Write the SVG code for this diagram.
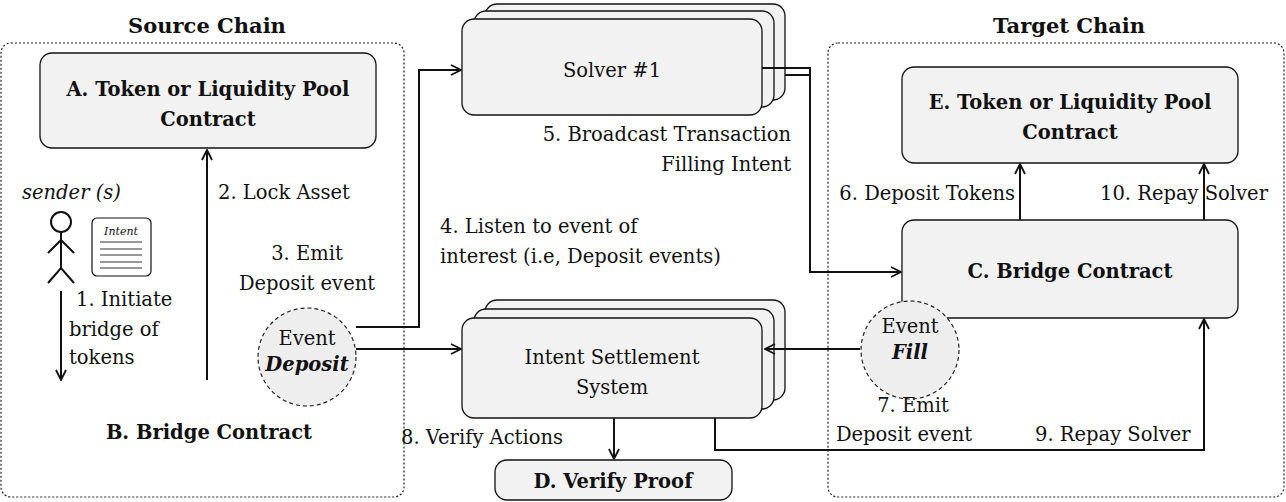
<svg xmlns="http://www.w3.org/2000/svg" width="1286" height="502" viewBox="0 0 1286 502">
<style>
text{font-family:"DejaVu Serif","Liberation Serif",serif;font-size:19.5px;fill:#111}
.b{font-weight:bold}
.t{font-size:21px}
.c{text-anchor:middle}
.r{text-anchor:end}
.i{font-style:italic}
.box{fill:#f2f2f2;stroke:#111;stroke-width:1.3}
.cont{fill:none;stroke:#222;stroke-width:1.2;stroke-dasharray:2 2}
.ev{fill:#eeeeee;stroke:#222;stroke-width:1.2;stroke-dasharray:4 3}
.ln{fill:none;stroke:#111;stroke-width:2}
</style>
<defs>
<marker id="ah" viewBox="0 0 12 12" refX="11" refY="6" markerWidth="12" markerHeight="12" markerUnits="userSpaceOnUse" orient="auto">
<path d="M1,1 L11,6 L1,11" fill="none" stroke="#111" stroke-width="1.8"/>
</marker>
</defs>
<g id="source-chain">
<rect class="cont" x="1" y="43" width="403" height="454" rx="10"/>
<text class="b c t" x="207" y="33">Source Chain</text>
<text class="b c" x="209" y="439">B. Bridge Contract</text>
</g>
<g id="target-chain">
<rect class="cont" x="828" y="43" width="456" height="454" rx="10"/>
<text class="b c t" x="1069" y="33">Target Chain</text>
</g>
<g id="nodeA">
<rect class="box" x="40" y="53" width="336" height="95" rx="12"/>
<text class="b c" x="208" y="96">A. Token or Liquidity Pool</text>
<text class="b c" x="208" y="126">Contract</text>
</g>
<g id="sender">
<text class="i" x="22" y="199">sender (s)</text>
<circle cx="61" cy="222" r="10" fill="none" stroke="#111" stroke-width="2"/>
<path class="ln" d="M61,232 V262 M48,253 L61,240 L74,253 M48,283 L61,268 L74,283 M61,262 V268"/>
</g>
<g id="intent">
<rect x="92" y="218" width="59" height="58" rx="5" fill="#fff" stroke="#111" stroke-width="1.2"/>
<text class="i c" x="121" y="235" style="font-size:11px">Intent</text>
<path d="M100,242 H142 M100,249 H142 M100,255 H142 M100,262 H142 M100,268 H142" stroke="#333" stroke-width="1"/>
</g>
<g id="event-deposit">
<circle class="ev" cx="307" cy="357" r="49"/>
<text class="c" x="307" y="345">Event</text>
<text class="b i c" x="307" y="371">Deposit</text>
</g>
<g id="solver">
<rect class="box" x="485" y="4" width="300" height="96" rx="12"/>
<rect class="box" x="474" y="11" width="300" height="96" rx="12"/>
<rect class="box" x="462" y="19" width="300" height="96" rx="12"/>
<text class="c" x="612" y="77">Solver #1</text>
</g>
<g id="settlement">
<rect class="box" x="485" y="300" width="300" height="100" rx="12"/>
<rect class="box" x="474" y="309" width="300" height="100" rx="12"/>
<rect class="box" x="462" y="318" width="300" height="100" rx="12"/>
<text class="c" x="612" y="364">Intent Settlement</text>
<text class="c" x="612" y="394">System</text>
</g>
<g id="nodeD">
<rect class="box" x="495" y="460" width="237" height="40" rx="12"/>
<text class="b c" x="613" y="488">D. Verify Proof</text>
</g>
<g id="nodeE">
<rect class="box" x="902" y="67" width="336" height="96" rx="12"/>
<text class="b c" x="1070" y="109">E. Token or Liquidity Pool</text>
<text class="b c" x="1070" y="139">Contract</text>
</g>
<g id="nodeC">
<rect class="box" x="902" y="220" width="336" height="98" rx="12"/>
<text class="b c" x="1070" y="278">C. Bridge Contract</text>
</g>
<g id="event-fill">
<circle class="ev" cx="910" cy="350" r="49"/>
<text class="c" x="910" y="333">Event</text>
<text class="b i c" x="910" y="359">Fill</text>
</g>
<g id="connectors">
<path class="ln" d="M61,291 V380" marker-end="url(#ah)"/>
<path class="ln" d="M207,380 V150" marker-end="url(#ah)"/>
<path class="ln" d="M356,327 H419 V70 H461" marker-end="url(#ah)"/>
<path class="ln" d="M356,349 H461" marker-end="url(#ah)"/>
<path class="ln" d="M762,68 H810 V272 H901" marker-end="url(#ah)"/>
<path class="ln" d="M785,75 H810"/>
<path class="ln" d="M860,349 H765" marker-end="url(#ah)"/>
<path class="ln" d="M614,418 V459" marker-end="url(#ah)"/>
<path class="ln" d="M715,418 V450 H1204 V319" marker-end="url(#ah)"/>
<path class="ln" d="M1020,220 V164" marker-end="url(#ah)"/>
<path class="ln" d="M1204,220 V164" marker-end="url(#ah)"/>
<text x="76" y="306">1. Initiate</text>
<text x="69" y="336">bridge of</text>
<text x="69" y="364">tokens</text>
<text x="218" y="199">2. Lock Asset</text>
<text class="c" x="307" y="260">3. Emit</text>
<text class="c" x="307" y="290">Deposit event</text>
<text x="440" y="233">4. Listen to event of</text>
<text x="440" y="263">interest (i.e, Deposit events)</text>
<text class="r" x="791" y="141">5. Broadcast Transaction</text>
<text class="r" x="791" y="171">Filling Intent</text>
<text class="r" x="1015" y="200">6. Deposit Tokens</text>
<text x="1100" y="200">10. Repay Solver</text>
<text class="c" x="913" y="412">7. Emit</text>
<text class="c" x="904" y="441">Deposit event</text>
<text class="r" x="563" y="444">8. Verify Actions</text>
<text x="1035" y="441">9. Repay Solver</text>
</g>
</svg>
